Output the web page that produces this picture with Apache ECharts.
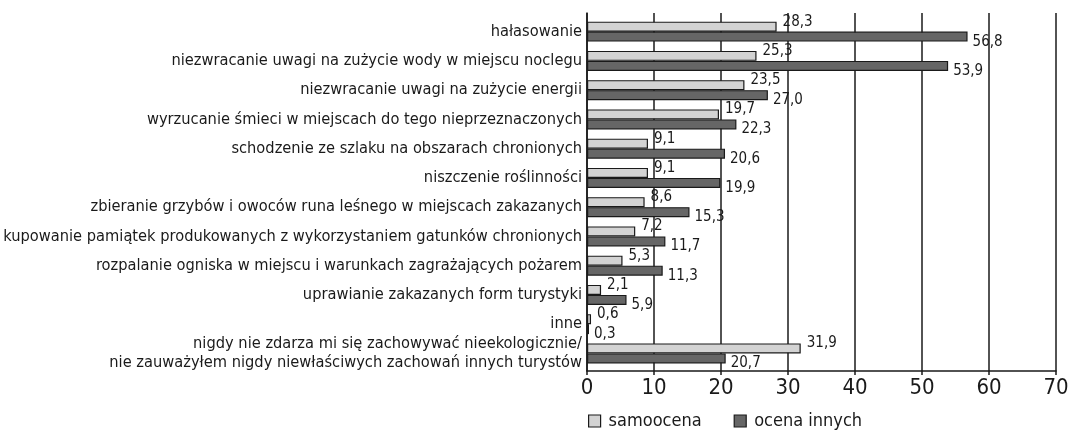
<!DOCTYPE html>
<html><head><meta charset="utf-8">
<script src="https://cdn.jsdelivr.net/npm/echarts@6/dist/echarts.min.js"></script>
<style>html,body{margin:0;padding:0;background:#fff}#c{width:1068px;height:430px}</style>
</head><body><div id="c"></div>
<script>
const categories = [
  "hałasowanie",
  "niezwracanie uwagi na zużycie wody w miejscu noclegu",
  "niezwracanie uwagi na zużycie energii",
  "wyrzucanie śmieci w miejscach do tego nieprzeznaczonych",
  "schodzenie ze szlaku na obszarach chronionych",
  "niszczenie roślinności",
  "zbieranie grzybów i owoców runa leśnego w miejscach zakazanych",
  "kupowanie pamiątek produkowanych z wykorzystaniem gatunków chronionych",
  "rozpalanie ogniska w miejscu i warunkach zagrażających pożarem",
  "uprawianie zakazanych form turystyki",
  "inne",
  "nigdy nie zdarza mi się zachowywać nieekologicznie/\nnie zauważyłem nigdy niewłaściwych zachowań innych turystów"
];
const seriesNames = ["samoocena", "ocena innych"];
const samoocena = [28.3, 25.3, 23.5, 19.7, 9.1, 9.1, 8.6, 7.2, 5.3, 2.1, 0.6, 31.9];
const ocenaInnych = [56.8, 53.9, 27.0, 22.3, 20.6, 19.9, 15.3, 11.7, 11.3, 5.9, 0.3, 20.7];
const xTicks = [0, 10, 20, 30, 40, 50, 60, 70];

const FONT = '"Liberation Sans Narrow", "DejaVu Sans Condensed", "Noto Sans", sans-serif';
const INK = '#1a1a1a';
const fmt = p => p.value.toFixed(1).replace('.', ',');
const xMin = xTicks[0], xMax = xTicks[xTicks.length - 1];
const chart = echarts.init(document.getElementById('c'));
chart.setOption({
  animation: false,
  textStyle: { fontFamily: FONT, color: INK },
  grid: [
    { left: 587, right: 12, top: 13, bottom: 59, containLabel: false, outerBoundsMode: 'none' },
    { left: 587, right: 12, top: 17, bottom: 62, containLabel: false, outerBoundsMode: 'none' }
  ],
  legend: {
    data: seriesNames,
    left: 583, top: 407,
    itemWidth: 12, itemHeight: 12, itemGap: 32,
    icon: 'rect',
    itemStyle: { borderColor: INK, borderWidth: 1.2 },
    textStyle: { fontFamily: FONT, fontSize: 18, color: INK, padding: [0, 0, 0, 3] }
  },
  xAxis: [
    {
      gridIndex: 0, type: 'value', min: xMin, max: xMax, interval: 10,
      axisLine: { show: true, lineStyle: { color: INK, width: 1.5 } },
      axisTick: { show: true, length: 4, lineStyle: { color: INK, width: 1.5 } },
      axisLabel: { fontFamily: FONT, fontSize: 22, color: INK, margin: 6 },
      splitLine: { show: true, lineStyle: { color: INK, width: 1.5 } }
    },
    {
      gridIndex: 1, type: 'value', min: xMin, max: xMax, interval: 10, show: false,
      splitLine: { show: false }
    }
  ],
  yAxis: [
    {
      gridIndex: 0, type: 'value', min: 0, max: 1,
      axisLine: { show: true, lineStyle: { color: INK, width: 1.5 } },
      axisTick: { show: false }, axisLabel: { show: false }, splitLine: { show: false }
    },
    {
      gridIndex: 1, type: 'category', data: categories, inverse: true,
      axisLine: { show: false },
      axisTick: { show: false },
      axisLabel: { fontFamily: FONT, fontSize: 16.3, color: INK, margin: 5, lineHeight: 19, align: 'right' }
    }
  ],
  series: [
    {
      name: seriesNames[0], type: 'bar', data: samoocena, xAxisIndex: 1, yAxisIndex: 1,
      barWidth: 10, barGap: '0%',
      itemStyle: { color: '#d3d3d3', borderColor: INK, borderWidth: 1.2 },
      label: { show: true, position: 'right', distance: 6, offset: [0, -5], formatter: fmt,
               fontFamily: FONT, fontSize: 15, color: INK }
    },
    {
      name: seriesNames[1], type: 'bar', data: ocenaInnych, xAxisIndex: 1, yAxisIndex: 1,
      barWidth: 10,
      itemStyle: { color: '#666666', borderColor: INK, borderWidth: 1.2 },
      label: { show: true, position: 'right', distance: 5, offset: [0, 5], formatter: fmt,
               fontFamily: FONT, fontSize: 15, color: INK }
    }
  ]
});
</script></body></html>
